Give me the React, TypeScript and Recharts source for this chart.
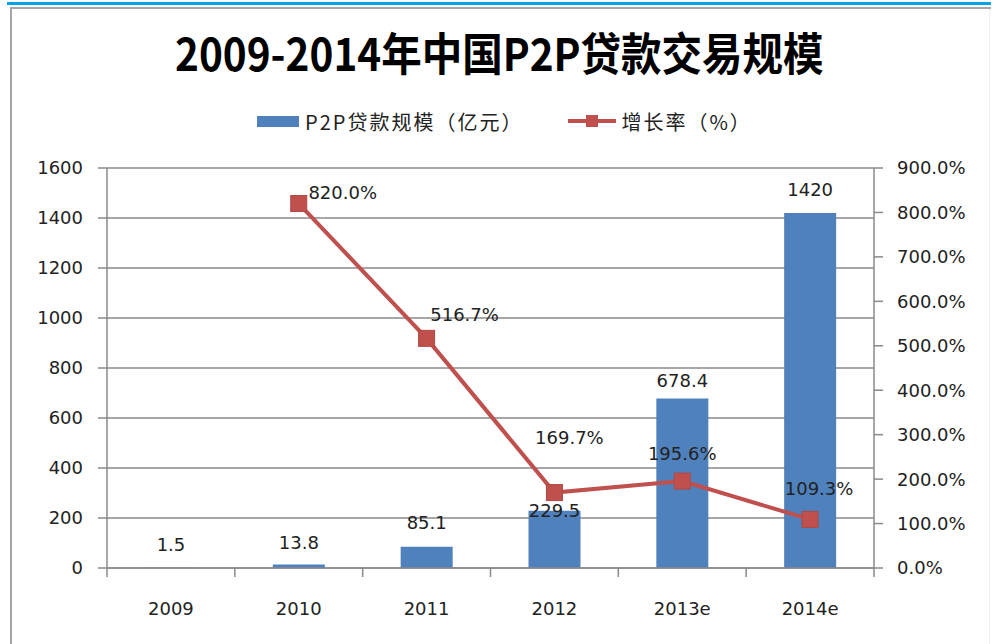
import React from 'react';
import { ComposedChart, Bar, Line, XAxis, YAxis, CartesianGrid, LabelList } from 'recharts';

const categories = ['2009', '2010', '2011', '2012', '2013e', '2014e'];
const loanScale = [1.5, 13.8, 85.1, 229.5, 678.4, 1420];
const growthRate: (number | null)[] = [null, 820.0, 516.7, 169.7, 195.6, 109.3];
const leftTicks = [0, 200, 400, 600, 800, 1000, 1200, 1400, 1600];
const rightTicks = [0, 100, 200, 300, 400, 500, 600, 700, 800, 900];

const title = '2009-2014年中国P2P贷款交易规模';
const barName = 'P2P贷款规模（亿元）';
const lineName = '增长率（%）';

// categories sit at the middle of unit slots on a numeric axis, so tick marks can fall between them
const data = categories.map((c, i) => ({ category: c, pos: i + 0.5, scale: loanScale[i], rate: growthRate[i] }));
const xTicks: number[] = [];
categories.forEach((_, i) => { xTicks.push(i, i + 0.5); });
xTicks.push(categories.length);

const BLUE = '#4f81bd';
const RED = '#c0504d';
const GRID = '#8a8a8a';
const FONT = '"DejaVu Sans", Verdana, sans-serif';
const CJK = '"Noto Sans CJK SC", "DejaVu Sans", sans-serif';
const X_TICK_SIZE = 9;
const X_TICK_MARGIN = 25;

// label placement nudges (label centre relative to anchor)
const barLabelDy = [-23, -22, -24, 0, -18, -24];
const lineLabelNudge = [
  { dx: 0, dy: 0 },
  { dx: 44, dy: -11 },
  { dx: 38, dy: -24 },
  { dx: 15, dy: -55 },
  { dx: 0, dy: -28 },
  { dx: 9, dy: -31 },
];

const BarLabel = (props: any) => {
  const { x, y, width, value, index } = props;
  if (value == null) return null;
  return (
    <text x={x + width / 2} y={y + barLabelDy[index]} textAnchor="middle" dominantBaseline="central"
      fontFamily={FONT} fontSize={18} fill="#222">
      {String(value)}
    </text>
  );
};

const LineLabel = (props: any) => {
  const { x, y, value, index } = props;
  if (value == null || x == null || y == null) return null;
  const n = lineLabelNudge[index] || { dx: 0, dy: -20 };
  return (
    <text x={x + n.dx} y={y + n.dy} textAnchor="middle" dominantBaseline="central"
      fontFamily={FONT} fontSize={18} fill="#222">
      {Number(value).toFixed(1) + '%'}
    </text>
  );
};

const SquareDot = (props: any) => {
  const { cx, cy, index } = props;
  if (cx == null || cy == null || growthRate[index] == null) return <g key={index} />;
  return <rect key={index} x={cx - 8} y={cy - 8} width={16} height={16} fill={RED} stroke="#b04744" strokeWidth={1} />;
};

const XTick = (props: any) => {
  const { x, y, payload } = props;
  const v = Number(payload.value);
  if (Number.isInteger(v)) {
    const top = y - X_TICK_MARGIN - X_TICK_SIZE;
    return <line x1={x} x2={x} y1={top} y2={top + X_TICK_SIZE} stroke={GRID} strokeWidth={1.5} />;
  }
  const label = categories[Math.floor(v)];
  return (
    <text x={x} y={y} dy="0.71em" textAnchor="middle" fontFamily={FONT} fontSize={18} fill="#222">
      {label}
    </text>
  );
};

export default function App() {
  return (
    <div style={{ position: 'absolute', left: 0, top: 0, width: 998, height: 644, background: '#fff', overflow: 'hidden' }}>
      {/* frame */}
      <div style={{ position: 'absolute', left: 7, top: 2, width: 984, height: 3, background: '#00a2e8' }} />
      <div style={{ position: 'absolute', left: 10, top: 7, width: 981, height: 2, background: '#a6a6a6' }} />
      <div style={{ position: 'absolute', left: 10, top: 7, width: 2, height: 640, background: '#a6a6a6' }} />
      <div style={{ position: 'absolute', left: 989, top: 9, width: 1, height: 640, background: '#eeeeee' }} />

      {/* title */}
      <div style={{ position: 'absolute', left: 0, top: 22, width: 998, textAlign: 'center' }}>
        <span style={{ display: 'inline-block', fontFamily: CJK, fontWeight: 700, fontSize: 45, lineHeight: '60px', color: '#000', transform: 'scaleX(0.9)', transformOrigin: 'center' }}>
          {title}
        </span>
      </div>

      {/* legend */}
      <div style={{ position: 'absolute', left: 257, top: 107, height: 28, display: 'flex', alignItems: 'center', fontFamily: CJK, fontSize: 20, color: '#222', letterSpacing: 2 }}>
        <span style={{ display: 'inline-block', width: 42, height: 11, background: BLUE, marginRight: 6 }} />
        <span>{barName}</span>
        <span style={{ display: 'inline-block', width: 45 }} />
        <svg width={48} height={20} style={{ marginRight: 5 }}>
          <line x1={0} y1={10} x2={48} y2={10} stroke={RED} strokeWidth={4} />
          <rect x={18} y={4} width={12} height={12} fill={RED} />
        </svg>
        <span>{lineName}</span>
      </div>

      <div style={{ position: 'absolute', left: 0, top: 0 }}>
        <ComposedChart width={998} height={644} data={data} margin={{ top: 168, right: 0, bottom: 0, left: 0 }}>
          <CartesianGrid yAxisId="left" vertical={false} stroke={GRID} strokeWidth={1.5} />
          <XAxis dataKey="pos" type="number" domain={[0, categories.length]} ticks={xTicks} allowDataOverflow
            height={76} tickLine={false} axisLine={{ stroke: GRID, strokeWidth: 1.5 }}
            tickSize={X_TICK_SIZE} tickMargin={X_TICK_MARGIN} tick={XTick} interval={0} />
          <YAxis yAxisId="left" orientation="left" width={107} domain={[0, 1600]} ticks={leftTicks}
            axisLine={{ stroke: GRID, strokeWidth: 1.5 }} tickLine={{ stroke: GRID, strokeWidth: 1.5 }}
            tickSize={9} tickMargin={15} tick={{ fontFamily: FONT, fontSize: 18, fill: '#222' }}
            interval={0} />
          <YAxis yAxisId="right" orientation="right" width={124} domain={[0, 900]} ticks={rightTicks}
            axisLine={{ stroke: GRID, strokeWidth: 1.5 }} tickLine={{ stroke: GRID, strokeWidth: 1.5 }}
            tickSize={9} tickMargin={14} tick={{ fontFamily: FONT, fontSize: 18, fill: '#222' }}
            tickFormatter={(v: number) => v.toFixed(1) + '%'} interval={0} />
          <Bar yAxisId="left" dataKey="scale" name={barName} fill={BLUE} barSize={52}
            isAnimationActive={false}>
            <LabelList dataKey="scale" content={BarLabel} />
          </Bar>
          <Line yAxisId="right" dataKey="rate" name={lineName} stroke={RED} strokeWidth={4}
            dot={SquareDot} activeDot={false} isAnimationActive={false} connectNulls={false}>
            <LabelList dataKey="rate" content={LineLabel} />
          </Line>
        </ComposedChart>
      </div>
    </div>
  );
}
